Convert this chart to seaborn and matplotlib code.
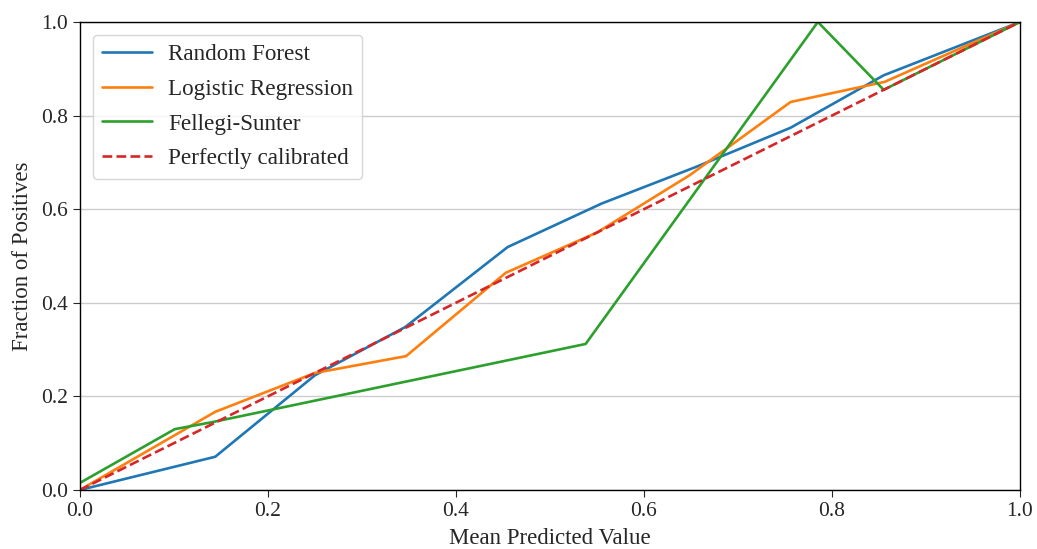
import matplotlib as mpl
mpl.use('Agg')
import matplotlib.pyplot as plt
import seaborn as sns
import pandas as pd

# calibration curve values
rf_x = [0.0, 0.144, 0.25, 0.346, 0.455, 0.555, 0.655, 0.756, 0.855, 1.0]
rf_y = [0.0, 0.071, 0.245, 0.348, 0.519, 0.612, 0.69, 0.774, 0.886, 1.0]

lr_x = [0.0, 0.144, 0.25, 0.347, 0.453, 0.55, 0.649, 0.756, 0.856, 1.0]
lr_y = [0.0, 0.167, 0.25, 0.286, 0.464, 0.55, 0.673, 0.829, 0.872, 1.0]

fs_x = [0.0, 0.101, 0.141, 0.538, 0.785, 0.855, 1.0]
fs_y = [0.015, 0.13, 0.145, 0.312, 1.0, 0.855, 1.0]

diag = [0.0, 1.0]

sns.set_style('white')
plt.rcParams['font.family'] = ['Liberation Serif', 'DejaVu Serif']

fig = plt.figure(figsize=(10.37, 5.49), dpi=100)
ax = fig.add_axes([0.077, 0.1075, 0.9066, 0.8525])

sns.lineplot(x=rf_x, y=rf_y, ax=ax, color='#1f77b4', label='Random Forest', sort=False, lw=1.9)
sns.lineplot(x=lr_x, y=lr_y, ax=ax, color='#ff7f0e', label='Logistic Regression', sort=False, lw=1.9)
sns.lineplot(x=fs_x, y=fs_y, ax=ax, color='#2ca02c', label='Fellegi-Sunter', sort=False, lw=1.9)
ax.plot(diag, diag, '--', color='#d62728', lw=1.9, label='Perfectly calibrated')

ax.set_xlim(0, 1)
ax.set_ylim(0, 1)
ax.grid(axis='y', color='#cccccc', lw=1)
for s in ax.spines.values():
    s.set_color('black')
    s.set_linewidth(1)
ax.tick_params(axis='both', labelsize=15.5, direction='out', length=5, left=True, bottom=True)
ax.set_xlabel('Mean Predicted Value', fontsize=16.5, labelpad=5)
ax.set_ylabel('Fraction of Positives', fontsize=16.5, labelpad=6)
ax.legend(loc='upper left', fontsize=16.7, frameon=True, handlelength=2.15,
          handletextpad=0.7, labelspacing=0.58, borderaxespad=0.55)

plt.savefig('out.png', dpi=100)
